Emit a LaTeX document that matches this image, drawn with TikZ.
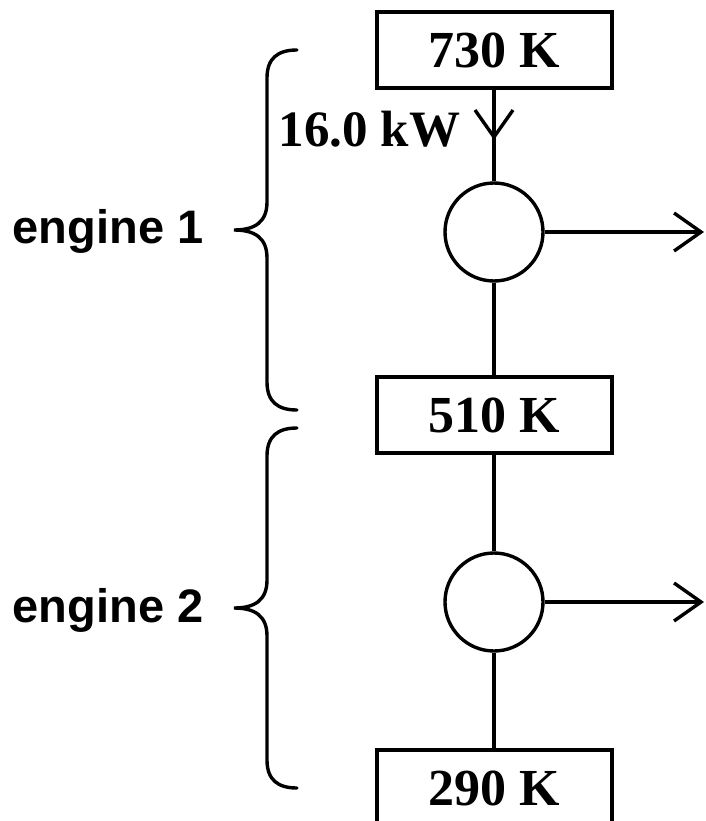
\documentclass[tikz,border=0pt]{standalone}
\usepackage{fontspec}
\setmainfont{Liberation Serif}
\newfontfamily\labelsans{Liberation Sans}
\usetikzlibrary{arrows.meta}
\begin{document}
\begin{tikzpicture}[x=1pt,y=-1pt,line width=3.4pt,
  tempbox/.style={draw,rectangle,minimum width=235pt,minimum height=76pt,inner sep=0pt,
    font=\fontsize{52}{60}\selectfont\bfseries},
  engcircle/.style={draw,circle,minimum size=98pt,inner sep=0pt},
  englabel/.style={inner sep=0pt,font=\fontsize{47}{56}\selectfont\labelsans\bfseries},
  flowlabel/.style={inner sep=0pt,font=\fontsize{51}{60}\selectfont\bfseries},
  barb/.style={-{Straight Barb[length=27pt,width=38pt]}},
  bracepath/.style={line width=3.4pt,line cap=round}]
\useasboundingbox (0,0) rectangle (706,821);
\node[tempbox] (hot) at (494.5,50) {730 K};
\node[tempbox] (mid) at (494.5,415) {510 K};
\node[tempbox] (cold) at (494.5,788) {290 K};
\node[engcircle] (e1) at (494,232) {};
\node[engcircle] (e2) at (494,602) {};
\coordinate (q1) at (494,140);
\coordinate (w1) at (704,232);
\coordinate (w2) at (704,602);
\draw (hot.south -| e1.north) -- (e1.north);
\draw[barb] (hot.south -| e1.north) -- (q1);
\draw (e1.south) -- (mid.north -| e1.south);
\draw (mid.south -| e2.north) -- (e2.north);
\draw (e2.south) -- (cold.north -| e2.south);
\draw[barb] (e1.east) -- (w1);
\draw[barb] (e2.east) -- (w2);
\node[flowlabel,anchor=base east] (qlabel) at (462,147) {16.0 kW};
\node[englabel,anchor=base west] (eng1) at (11,243) {engine 1};
\node[englabel,anchor=base west] (eng2) at (11,622) {engine 2};
\draw[bracepath] (297,50) .. controls (278,50) and (267,58) .. (267,78) -- (267,202)
  .. controls (267,222) and (255,230) .. (234,230)
  .. controls (255,230) and (267,238) .. (267,258) -- (267,382)
  .. controls (267,402) and (278,410) .. (297,410);
\draw[bracepath] (297,428) .. controls (278,428) and (267,436) .. (267,456) -- (267,580)
  .. controls (267,600) and (255,608) .. (234,608)
  .. controls (255,608) and (267,616) .. (267,636) -- (267,760)
  .. controls (267,780) and (278,788) .. (297,788);
\end{tikzpicture}
\end{document}
